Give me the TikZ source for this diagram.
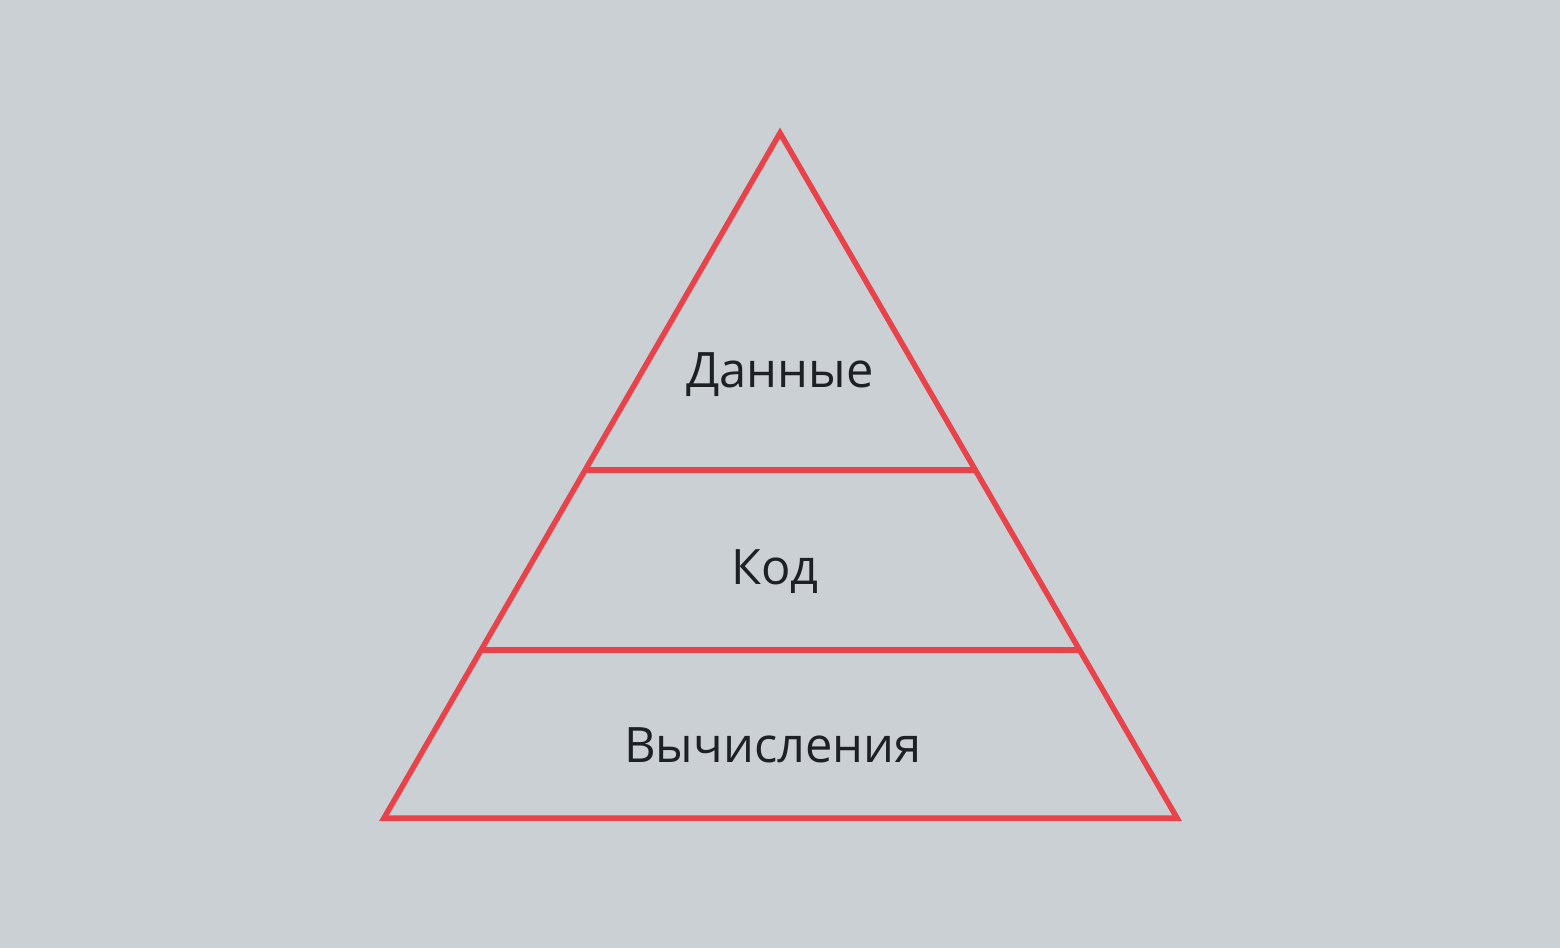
\documentclass[tikz,border=0pt]{standalone}
\usepackage{fontspec}
\setmainfont{Open Sans}
\definecolor{bg}{HTML}{CBD0D4}
\definecolor{pyr}{HTML}{E8434B}
\definecolor{txt}{HTML}{1E2124}
\begin{document}
\begin{tikzpicture}[x=1bp,y=-1bp,
  edge/.style={draw=pyr,line width=5.5bp,miter limit=20},
  lbl/.style={text=txt,font=\fontsize{49}{54}\selectfont,inner sep=0pt,anchor=base}]
\fill[bg] (0,0) rectangle (1560,948);
\useasboundingbox (0,0) rectangle (1560,948);
\coordinate (apex) at (780,133);
\coordinate (bl) at (384,818);
\coordinate (br) at (1177,818);
\coordinate (l1) at (586,470);
\coordinate (r1) at (974,470);
\coordinate (l2) at (482,650);
\coordinate (r2) at (1079,650);
\draw[edge] (apex) -- (br) -- (bl) -- cycle;
\draw[edge] (l1) -- (r1);
\draw[edge] (l2) -- (r2);
\node[lbl] (data) at (780,387) {Данные};
\node[lbl] (code) at (775,584) {Код};
\node[lbl] (comp) at (773,762) {Вычисления};
\end{tikzpicture}
\end{document}
